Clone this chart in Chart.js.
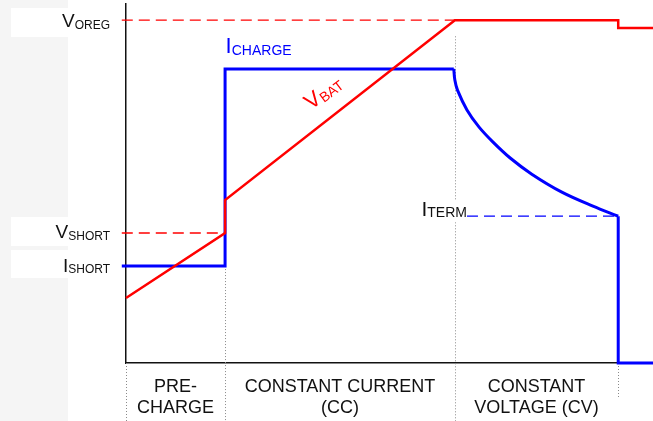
<!DOCTYPE html>
<html>
<head>
<meta charset="utf-8">
<script src="https://cdn.jsdelivr.net/npm/chart.js@4.4.0/dist/chart.umd.min.js"></script>
<style>
body { margin: 0; background: #fff; }
#wrap { width: 653px; height: 421px; position: relative; }
</style>
</head>
<body>
<div id="wrap"><canvas id="chart"></canvas></div>
<script>
// tiempo 0-100 (eje x), nivel 0-100 (eje y)
const vbatX = [0, 18.8, 18.8, 62.4, 93.4, 93.4, 100];
const vbatY = [18.1, 36.2, 45.4, 95.5, 95.5, 93.3, 93.3];

const ichgX = [-0.8, 18.8, 18.8, 62.2];
const ichgY = [27.0, 27.0, 81.9, 81.9];

const cvX = [62.2, 62.4, 62.9, 64.7, 67.0, 69.6, 72.9, 77.0, 82.7, 88.6, 93.4];
const cvY = [81.9, 78.8, 76.0, 70.5, 65.7, 61.6, 57.1, 52.6, 47.6, 43.7, 40.9];

const endX = [93.4, 93.4, 100];
const endY = [40.9, 0, 0];

const VOREG = 95.5, VSHORT = 36.2, ISHORT = 27.0, ITERM = 40.9;
const phaseEnds = [0, 18.8, 62.4, 93.4];
const phaseMid = [9.4, 40.6, 77.9];
const phaseLabels = [["PRE-", "CHARGE"], ["CONSTANT CURRENT", "(CC)"], ["CONSTANT", "VOLTAGE (CV)"]];

const RED = "#ff0000";
const BLUE = "#0000ff";
const FONT = '"Liberation Sans", Arial, sans-serif';

function pts(xs, ys) {
    return xs.map((x, i) => ({ x: x, y: ys[i] }));
}

function line(data, color, width, dash) {
    return {
        data: data,
        borderColor: color,
        borderWidth: width,
        borderDash: dash || [],
        pointRadius: 0,
        fill: false,
        tension: 0,
        clip: false
    };
}

// texto con subíndice (V_OREG, I_TERM...)
function subText(ctx, main, sub, x, y, size, subSize, color, align, drop) {
    ctx.save();
    ctx.fillStyle = color;
    ctx.textBaseline = "alphabetic";
    ctx.textAlign = "left";
    ctx.font = size + "px " + FONT;
    const w1 = ctx.measureText(main).width;
    ctx.font = subSize + "px " + FONT;
    const w2 = ctx.measureText(sub).width;
    const x0 = align === "right" ? x - w1 - w2 : x;
    ctx.font = size + "px " + FONT;
    ctx.fillText(main, x0, y);
    ctx.font = subSize + "px " + FONT;
    ctx.fillText(sub, x0 + w1, y + drop);
    ctx.restore();
}

const annot = {
    id: "annot",
    beforeDraw(chart) {
        const c = chart.ctx;
        c.save();
        c.fillStyle = "#f5f5f5";
        c.fillRect(0, 0, 68, chart.height);
        c.fillStyle = "#fff";
        c.fillRect(11, 8, 57, 29);
        c.fillRect(11, 217, 57, 29);
        c.fillRect(11, 250, 57, 28);
        c.restore();
    },
    beforeDatasetsDraw(chart) {
        const c = chart.ctx;
        const xs = chart.scales.x, ys = chart.scales.y;
        const tops = [0, ISHORT, 91, 0];
        c.save();
        c.strokeStyle = "#8a8a8a";
        c.lineWidth = 1;
        c.setLineDash([1, 2]);
        phaseEnds.forEach((v, i) => {
            const px = Math.round(xs.getPixelForValue(v)) + 0.5;
            const bottom = i === 3 ? ys.bottom + 35 : chart.height;
            c.beginPath();
            c.moveTo(px, ys.getPixelForValue(tops[i]));
            c.lineTo(px, bottom);
            c.stroke();
        });
        c.restore();
    },
    afterDatasetsDraw(chart) {
        const c = chart.ctx;
        const xs = chart.scales.x, ys = chart.scales.y;
        const right = xs.left - 16;

        subText(c, "V", "OREG", right, ys.getPixelForValue(VOREG) + 7, 19, 12, "#111", "right", 2);
        subText(c, "V", "SHORT", right, ys.getPixelForValue(VSHORT) + 5, 19, 12, "#111", "right", 2);
        subText(c, "I", "SHORT", right, ys.getPixelForValue(ISHORT) + 6, 19, 12, "#111", "right", 1);

        subText(c, "I", "CHARGE", xs.getPixelForValue(18.9), ys.getPixelForValue(81.9) - 16, 22, 14, BLUE, "left", 2);

        // I_TERM con fondo blanco
        const tx = xs.getPixelForValue(64.7), ty = ys.getPixelForValue(ITERM);
        c.save();
        c.fillStyle = "#fff";
        c.fillRect(tx - 46, ty - 16, 46, 22);
        c.restore();
        subText(c, "I", "TERM", tx, ty, 21, 14, "#111", "right", 1);

        // V_BAT girado
        c.save();
        c.translate(xs.getPixelForValue(35.1), ys.getPixelForValue(70.4));
        c.rotate(-37 * Math.PI / 180);
        subText(c, "V", "BAT", 0, 0, 22, 14, RED, "left", 2);
        c.restore();
    }
};

const ctx = document.getElementById("chart").getContext("2d");
const chart = new Chart(ctx, {
    type: "line",
    data: {
        datasets: [
            line(pts(vbatX, vbatY), RED, 2.5),
            line(pts([-0.8, 62.4], [VOREG, VOREG]), RED, 1.4, [11, 6]),
            line(pts([-0.8, 18.8], [VSHORT, VSHORT]), RED, 1.4, [11, 6]),
            line(pts(ichgX, ichgY), BLUE, 3),
            Object.assign(line(pts(cvX, cvY), BLUE, 3), { tension: 0.35 }),
            line(pts(endX, endY), BLUE, 3),
            line(pts([64.7, 93.4], [ITERM, ITERM]), BLUE, 1.4, [11, 6])
        ]
    },
    options: {
        responsive: true,
        maintainAspectRatio: false,
        animation: false,
        layout: { padding: { top: 4, right: 0, bottom: 0, left: 0 } },
        plugins: { legend: { display: false }, tooltip: { enabled: false } },
        scales: {
            x: {
                type: "linear",
                min: 0,
                max: 100,
                grid: { display: false, drawTicks: false },
                border: { display: true, color: "#111", width: 1.5 },
                afterBuildTicks: (s) => { s.ticks = phaseMid.map(v => ({ value: v })); },
                afterFit: (s) => { s.height = 58; },
                ticks: {
                    autoSkip: false,
                    maxRotation: 0,
                    padding: 13,
                    color: "#111",
                    font: { family: FONT, size: 18, lineHeight: 1.2 },
                    callback: (v, i) => phaseLabels[i]
                }
            },
            y: {
                min: 0,
                max: 100,
                grid: { display: false, drawTicks: false },
                border: { display: true, color: "#111", width: 1.5 },
                ticks: { display: false },
                afterFit: (s) => { s.width = 126; }
            }
        }
    },
    plugins: [annot]
});
</script>
</body>
</html>
